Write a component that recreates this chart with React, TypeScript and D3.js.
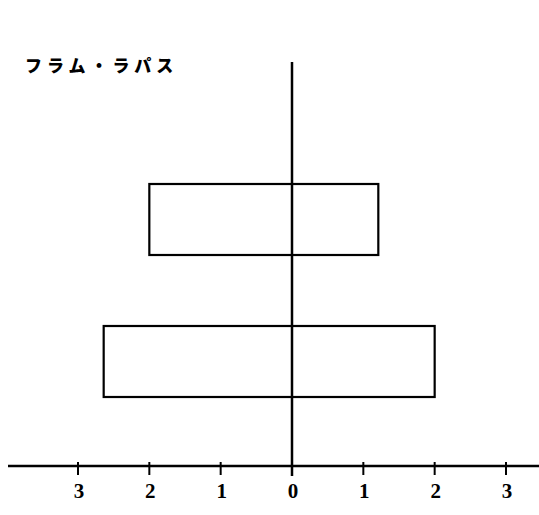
import React from 'react';
import { scaleLinear, scaleBand } from 'd3';

const width = 539;
const height = 515;

// chart data
const title = 'フラム・ラパス';
const rows = ['upper', 'lower'];
const lowValues = [-2.0, -2.64];
const highValues = [1.21, 2.0];
const tickValues = [-3, -2, -1, 0, 1, 2, 3];

const axisY = 466;

const App = () => {
  const xScale = scaleLinear().domain([-3, 3]).range([78, 506]);

  const yScale = scaleBand()
    .domain(rows)
    .range([184, 397])
    .paddingInner(0.5)
    .paddingOuter(0);

  const x0 = xScale(0);

  return (
    <svg
      width={width}
      height={height}
      style={{ position: 'absolute', left: 0, top: 0, background: '#fff' }}
    >
      <text
        x={25}
        y={72}
        fontFamily="'Noto Sans CJK JP', sans-serif"
        fontWeight={900}
        fontSize={17}
        letterSpacing={5}
        fill="#000"
      >
        {title}
      </text>

      {/* vertical axis */}
      <line x1={x0} x2={x0} y1={62} y2={476} stroke="#000" strokeWidth={2.5} />

      {/* horizontal axis */}
      <line x1={8} x2={width} y1={axisY} y2={axisY} stroke="#000" strokeWidth={2.5} />

      {tickValues.map(t => (
        <g key={t} transform={`translate(${xScale(t)},0)`}>
          {t !== 0 && (
            <line y1={axisY - 4} y2={axisY + 9} stroke="#000" strokeWidth={2} />
          )}
          <text
            x={1}
            y={498}
            textAnchor="middle"
            fontFamily="'Liberation Serif', serif"
            fontWeight="bold"
            fontSize={21}
            fill="#000"
          >
            {Math.abs(t)}
          </text>
        </g>
      ))}

      {rows.map((r, i) => (
        <rect
          key={r}
          x={xScale(lowValues[i])}
          y={yScale(r)}
          width={xScale(highValues[i]) - xScale(lowValues[i])}
          height={yScale.bandwidth()}
          fill="none"
          stroke="#000"
          strokeWidth={2.2}
        />
      ))}
    </svg>
  );
};

export default App;
